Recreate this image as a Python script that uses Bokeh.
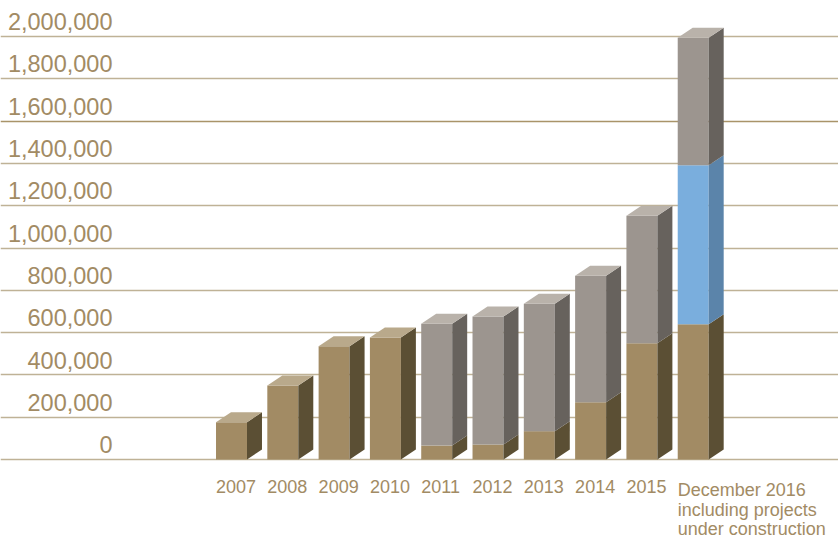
from bokeh.plotting import figure
from bokeh.models import Range1d
from bokeh.core.properties import value
from bokeh.embed import file_html
from bokeh.resources import INLINE

# ---- data ----
categories = ["2007", "2008", "2009", "2010", "2011", "2012", "2013", "2014", "2015",
              "December 2016\nincluding projects\nunder construction"]
own = [176000, 350000, 536000, 577000, 66000, 71000, 134000, 271000, 550000, 640000]
under_construction = [0, 0, 0, 0, 0, 0, 0, 0, 0, 751000]
other = [0, 0, 0, 0, 576000, 605000, 602000, 598000, 602000, 603000]
tick_values = [0, 200000, 400000, 600000, 800000, 1000000, 1200000, 1400000,
               1600000, 1800000, 2000000]
tick_labels = ["0", "200,000", "400,000", "600,000", "800,000", "1,000,000", "1,200,000",
               "1,400,000", "1,600,000", "1,800,000", "2,000,000"]

# ---- style ----
W, H = 838, 538
BAR_W = 0.604
DX = 0.292          # depth in x (data units)
DY = 47300          # depth in y (data units)
LABEL_LIFT = 30000  # tick labels float just above their gridline
FONT = "Liberation Sans"
TXT = "#A28B64"
grid_colors = ["#BFB296"] * len(tick_values)
grid_colors[8] = "#A99469"

series = [
    (own, "#A28B64", "#5B4F34", "#B9A98B"),
    (under_construction, "#7AAEDD", "#5B84AA", "#A9C8E6"),
    (other, "#9C958F", "#67625D", "#B9B2AA"),
]

p = figure(width=W, height=H, output_backend="svg", toolbar_location=None,
           x_range=Range1d(-4.503, 11.832), y_range=Range1d(-373500, 2170200),
           x_axis_type=None, y_axis_type=None, min_border=0,
           outline_line_color=None, background_fill_color="white",
           border_fill_color="white")
p.grid.visible = False

# gridlines
p.hspan(y=tick_values, line_color=grid_colors, line_width=1.5)

# y tick labels above gridlines
p.text(x=[-2.32] * len(tick_values), y=[t + LABEL_LIFT for t in tick_values],
       text=tick_labels, text_align="right", text_baseline="bottom",
       text_font=value(FONT), text_font_size="23.5px", text_color=TXT)

# bars
n = len(categories)
bottoms = [0.0] * n
tops_all = [o + u + g for o, u, g in zip(own, under_construction, other)]
for vals, front, side, top in series:
    fx, fy, sx, sy = [], [], [], []
    for i, v in enumerate(vals):
        if v <= 0:
            continue
        y0 = bottoms[i]
        y1 = y0 + v
        xl = i - BAR_W / 2
        xr = i + BAR_W / 2
        fx.append([xl, xr, xr, xl]); fy.append([y0, y0, y1, y1])
        sx.append([xr, xr + DX, xr + DX, xr]); sy.append([y0, y0 + DY, y1 + DY, y1])
        bottoms[i] = y1
    p.patches(fx, fy, fill_color=front, line_color=None)
    p.patches(sx, sy, fill_color=side, line_color=None)

# top faces
tx, ty, tc = [], [], []
for i in range(n):
    t = tops_all[i]
    if other[i] > 0:
        c = series[2][3]
    elif under_construction[i] > 0:
        c = series[1][3]
    else:
        c = series[0][3]
    xl = i - BAR_W / 2
    xr = i + BAR_W / 2
    tx.append([xl, xr, xr + DX, xl + DX]); ty.append([t, t, t + DY, t + DY]); tc.append(c)
p.patches(tx, ty, fill_color=tc, line_color=None)

# x labels
p.text(x=[i - BAR_W / 2 for i in range(n)], y=[-99000] * n, text=categories,
       text_align="left", text_baseline="top", text_line_height=0.96,
       text_font=value(FONT), text_font_size="18px", text_color=TXT)

open("out.html", "w").write(file_html(p, INLINE))
